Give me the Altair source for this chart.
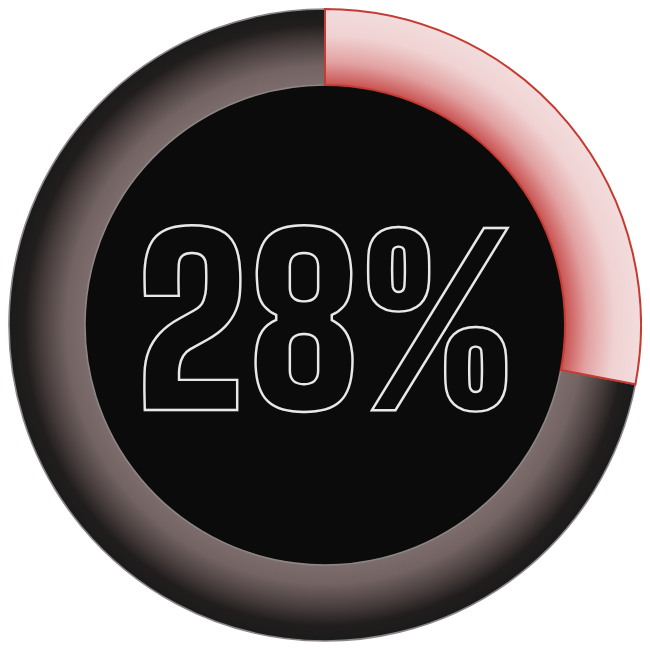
import math
import altair as alt
import pandas as pd

# ---- data ----
categories = ["done", "remaining"]
values = [28, 72]

# ---- layout / style ----
W = H = 634
R_OUT = 316
R_IN = 240

starts, ends, acc = [], [], 0
for v in values:
    starts.append(acc)
    acc += v
    ends.append(acc)
total = acc
df = pd.DataFrame({"category": categories, "value": values, "start": starts, "end": ends})

theta_scale = alt.Scale(domain=[0, total], range=[0, 2 * math.pi])


def stops(colors, ratio):
    out = [{"offset": 0, "color": colors[0][1]}]
    for t, c in colors:
        out.append({"offset": round(ratio + t * (1 - ratio), 4), "color": c})
    return out


ratio = R_IN / R_OUT

frac = values[0] / total
a = 2 * math.pi * frac
bw = R_OUT * (1 if a >= math.pi / 2 else math.sin(a))
ymax_rel = -math.cos(a)
bh = R_OUT * (1 + ymax_rel)
S = max(bw, bh)
bcx = bw / 2
bcy = (-R_OUT + ymax_rel * R_OUT) / 2
gx = -(bcx - S / 2) / S
gy = -(bcy - S / 2) / S
gr = R_OUT / S
red_grad = {
    "gradient": "radial",
    "x1": gx, "y1": gy, "r1": 0,
    "x2": gx, "y2": gy, "r2": gr,
    "stops": stops([(0, "#c95252"), (0.3, "#e2a1a1"), (0.65, "#f0d2d2"), (1, "#f3dcdc")], ratio),
}

bw2 = R_OUT * (1 + math.sin(a))
bh2 = 2 * R_OUT
S2 = max(bw2, bh2)
bcx2 = (-R_OUT + R_OUT * math.sin(a)) / 2
gx2 = -(bcx2 - S2 / 2) / S2
gy2 = 0.5
gr2 = R_OUT / S2
dark_grad = {
    "gradient": "radial",
    "x1": gx2, "y1": gy2, "r1": 0,
    "x2": gx2, "y2": gy2, "r2": gr2,
    "stops": stops([(0, "#7c6c6c"), (0.25, "#736363"), (0.55, "#4a3f3f"), (0.8, "#211d1d"), (1, "#1b1b1b")], ratio),
}

base = alt.Chart(df)

inner = base.transform_aggregate(s="min(start)", e="max(end)").mark_arc(
    fill="#0b0b0b"
).encode(
    theta=alt.Theta("s:Q", scale=theta_scale),
    theta2="e:Q",
    radius=alt.value(R_IN),
)

dark = base.transform_filter(alt.datum.category == "remaining").mark_arc(
    fill=dark_grad, stroke="#8d8585", strokeWidth=1.6
).encode(
    theta=alt.Theta("start:Q", scale=theta_scale),
    theta2="end:Q",
    radius=alt.value(R_OUT),
    radius2=alt.value(R_IN),
)

red = base.transform_filter(alt.datum.category == "done").mark_arc(
    fill=red_grad, stroke="#c53b31", strokeWidth=2
).encode(
    theta=alt.Theta("start:Q", scale=theta_scale),
    theta2="end:Q",
    radius=alt.value(R_OUT),
    radius2=alt.value(R_IN),
)

label = base.transform_filter(alt.datum.category == "done").transform_calculate(
    label="datum.value + '%'"
).mark_text(
    font="'Big Shoulders Display', Anton, sans-serif",
    fontWeight=900,
    fontSize=228,
    fill="#0b0b0b",
    stroke="#e8e8e8",
    strokeWidth=2.4,
    align="center",
    baseline="alphabetic",
).encode(
    text="label:N",
    x=alt.value(W / 2 + 1),
    y=alt.value(H / 2 + 85),
)

chart = alt.layer(inner, dark, red, label).properties(
    width=W, height=H, padding=0, autosize=alt.AutoSizeParams(type="none"), background="white"
).configure_view(stroke=None)

chart.save("out.html", embed_options={"renderer": "svg", "actions": False})
